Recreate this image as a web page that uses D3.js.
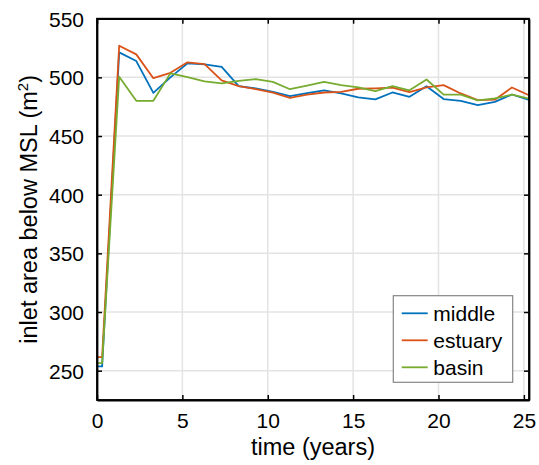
<!DOCTYPE html>
<html>
<head>
<meta charset="utf-8">
<script src="https://cdn.jsdelivr.net/npm/d3@7"></script>
<style>
  body { margin: 0; background: #fff; }
  text { font-family: "Liberation Sans", Arial, Helvetica, sans-serif; fill: #000; }
</style>
</head>
<body>
<script>
// time axis (years)
const times = [0, 0.3, 1.3, 2.3, 3.3, 4.3, 5.3, 6.3, 7.3, 8.3, 9.3, 10.3, 11.3, 12.3,
  13.3, 14.3, 15.3, 16.3, 17.3, 18.3, 19.3, 20.3, 21.3, 22.3, 23.3, 24.3, 25.3];

const middle = [253.7, 253.7, 521.3, 513.9, 486.8, 500, 511.9, 511, 509, 492.5, 490.5, 487.7, 484, 486.5,
  489, 486.3, 483, 481.2, 487.1, 483.4, 492.5, 481.5, 480, 476.3, 479.1, 485.4, 480.8];
const estuary = [261.6, 261.6, 527, 519.6, 499.3, 503.9, 512.8, 511.3, 497.5, 492.5, 490, 487, 482.5, 485.3,
  487.1, 487.7, 490.3, 490.6, 491.2, 487.5, 491.4, 493.4, 486.3, 480.6, 481, 491.4, 484.8];
const basin = [256.5, 256.5, 500.5, 480, 480, 503.4, 500.3, 496.5, 494.8, 497, 498.5, 496.2, 489.9, 493,
  496.2, 493.4, 491.4, 488.3, 492.6, 489, 498.2, 485.3, 485.3, 480.4, 482, 485.2, 481.8];

const seriesNames = ['middle', 'estuary', 'basin'];
const xTicks = [0, 5, 10, 15, 20, 25];
const yTicks = [250, 300, 350, 400, 450, 500, 550];

const colors = ['#0072BD', '#D95319', '#77AC30'];

const svgWidth = 539;
const svgHeight = 465;
const margin = {left: 97, top: 18.7, right: 10, bottom: 65};
const width = svgWidth - margin.left - margin.right;
const height = svgHeight - margin.top - margin.bottom;

const svg = d3.select('body').append('svg')
    .attr('width', svgWidth)
    .attr('height', svgHeight)
  .append('g')
    .attr('transform', `translate(${margin.left}, ${margin.top})`);

const xScale = d3.scaleLinear().domain([0, 25.3]).range([0, width]);
const yScale = d3.scaleLinear().domain([225, 550]).range([height, 0]);

// grid
svg.append('g').selectAll('line')
    .data(xTicks)
    .join('line')
    .attr('x1', d => xScale(d)).attr('x2', d => xScale(d))
    .attr('y1', 0).attr('y2', height)
    .attr('stroke', '#e3e3e3').attr('stroke-width', 1.5);

svg.append('g').selectAll('line')
    .data(yTicks)
    .join('line')
    .attr('x1', 0).attr('x2', width)
    .attr('y1', d => yScale(d)).attr('y2', d => yScale(d))
    .attr('stroke', '#e3e3e3').attr('stroke-width', 1.5);

// data lines
const series = [middle, estuary, basin];
const line = d3.line()
    .x((d, i) => xScale(times[i]))
    .y(d => yScale(d));

series.forEach((s, k) => {
    svg.append('path')
        .datum(s)
        .attr('d', line)
        .attr('fill', 'none')
        .attr('stroke', colors[k])
        .attr('stroke-width', 1.8)
        .attr('stroke-linejoin', 'round');
});

// axes (ticks pointing in, box on)
const tickLen = 5;
const xAxis = d3.axisBottom(xScale).tickValues(xTicks).tickSizeInner(-tickLen).tickSizeOuter(0).tickPadding(13);
const yAxis = d3.axisLeft(yScale).tickValues(yTicks).tickSizeInner(-tickLen).tickSizeOuter(0).tickPadding(13);

const gx = svg.append('g')
    .attr('transform', `translate(0, ${height})`)
    .call(xAxis);
const gy = svg.append('g').call(yAxis);

svg.append('g')
    .call(d3.axisTop(xScale).tickValues(xTicks).tickSizeInner(-tickLen).tickSizeOuter(0).tickFormat(''));
svg.append('g')
    .attr('transform', `translate(${width}, 0)`)
    .call(d3.axisRight(yScale).tickValues(yTicks).tickSizeInner(-tickLen).tickSizeOuter(0).tickFormat(''));

svg.selectAll('.domain').attr('stroke', '#000').attr('stroke-width', 1.8);
svg.selectAll('.tick line').attr('stroke', '#000').attr('stroke-width', 1.5);
svg.selectAll('.tick text')
    .style('font-family', '"Liberation Sans", Arial, sans-serif')
    .style('font-size', '21px')
    .attr('fill', '#000');
gx.selectAll('.tick text').attr('dy', '0').attr('y', 28);
gy.selectAll('.tick text').attr('dy', '0.35em');

// box
svg.append('rect')
    .attr('x', 0).attr('y', 0)
    .attr('width', width).attr('height', height)
    .attr('fill', 'none')
    .attr('stroke', '#000')
    .attr('stroke-width', 1.8);

// labels
svg.append('text')
    .text('time (years)')
    .attr('x', width / 2)
    .attr('y', 455 - margin.top)
    .attr('text-anchor', 'middle')
    .style('font-size', '23.5px');

const yl = svg.append('text')
    .attr('transform', `translate(${37 - margin.left}, ${height / 2}) rotate(-90)`)
    .attr('text-anchor', 'middle')
    .style('font-size', '23.5px');
yl.append('tspan').text('inlet area below MSL (m');
yl.append('tspan').text('2').attr('dy', -9).style('font-size', '15px');
yl.append('tspan').text(')').attr('dy', 9);

// legend
const legX = 393.3 - margin.left;
const legY = 295.7 - margin.top;
const legend = svg.append('g').attr('transform', `translate(${legX}, ${legY})`);
legend.append('rect')
    .attr('width', 119.4).attr('height', 86.6)
    .attr('fill', '#fff')
    .attr('stroke', '#858585')
    .attr('stroke-width', 1.2);

seriesNames.forEach((name, i) => {
    const cy = 17.6 + i * 27;
    legend.append('line')
        .attr('x1', 8.4).attr('x2', 34.4)
        .attr('y1', cy).attr('y2', cy)
        .attr('stroke', colors[i])
        .attr('stroke-width', 1.8);
    legend.append('text')
        .text(name)
        .attr('x', 40)
        .attr('y', cy)
        .attr('dy', '0.35em')
        .style('font-size', '21px');
});
</script>
</body>
</html>
